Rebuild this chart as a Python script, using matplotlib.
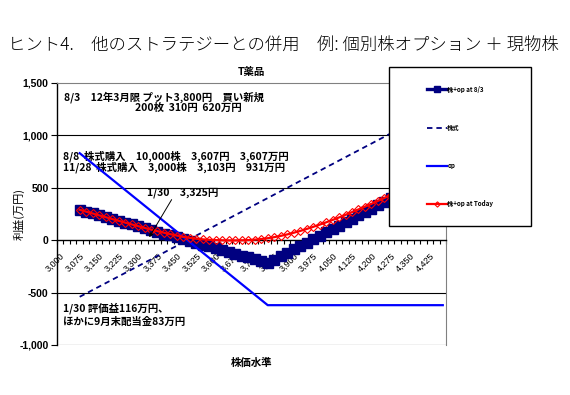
import numpy as np
import matplotlib
matplotlib.use("Agg")
import matplotlib.pyplot as plt
from matplotlib.patches import Rectangle

plt.rcParams['font.family'] = ['Noto Sans CJK JP', 'DejaVu Sans']

# ---- data (万円) ----
categories = np.arange(3000, 4500, 25)          # 株価の区分 3,000 ... 4,475
tick_every = 3
series_start = 3075                              # 系列は3,075円から

pl_expiry = [290, 272, 255, 237, 220, 202, 185, 167, 150, 132,
             115, 97, 80, 62, 45, 27, 10, -8, -25, -43,
             -60, -78, -95, -113, -130, -148, -165, -183, -200, -218,
             -185, -153, -120, -88, -55, -23, 10, 42, 75, 107,
             140, 172, 205, 237, 270, 302, 335, 367, 400, 432,
             465, 497, 530, 562, 595, 627, 660]

pl_stock = [-540, -508, -475, -443, -410, -378, -345, -313, -280, -248,
            -215, -183, -150, -118, -85, -53, -20, 12, 45, 77,
            110, 142, 175, 207, 240, 272, 305, 337, 370, 402,
            435, 467, 500, 532, 565, 597, 630, 662, 695, 727,
            760, 792, 825, 857, 890, 922, 955, 987, 1020, 1052,
            1085, 1117, 1150, 1182, 1215, 1247, 1280]

pl_op = [830, 780, 730, 680, 630, 580, 530, 480, 430, 380,
         330, 280, 230, 180, 130, 80, 30, -20, -70, -120,
         -170, -220, -270, -320, -370, -420, -470, -520, -570, -620,
         -620, -620, -620, -620, -620, -620, -620, -620, -620, -620,
         -620, -620, -620, -620, -620, -620, -620, -620, -620, -620,
         -620, -620, -620, -620, -620, -620, -620]

pl_today = [290, 272, 255, 237, 220, 202, 185, 168, 151, 134,
            117, 101, 86, 71, 57, 44, 32, 22, 14, 8,
            4, 1, -1, -2, -2, -1, 1, 5, 11, 19,
            29, 41, 55, 71, 88, 107, 127, 148, 170, 193,
            217, 242, 268, 294, 320, 347, 375, 403, 431, 460,
            490, 520, 550, 580, 611, 642, 673]

legend_labels = ["株+op at 8/3", "株式", "op", "株+op at Today"]
y_ticks = [-1000, -500, 0, 500, 1000, 1500]

# ---- figure ----
fig = plt.figure(figsize=(5.7, 3.95), dpi=100)
ax = fig.add_axes([0.1, 0.1266, 0.6825, 0.6633])

start = list(categories).index(series_start)
x = np.arange(start, start + len(pl_expiry))

navy = "#000080"
h1, = ax.plot(x, pl_expiry, color=navy, lw=2.4, marker="s", ms=7.3,
              mfc=navy, mec=navy, zorder=3)
h2, = ax.plot(x, pl_stock, color=navy, lw=1.3, ls=(0, (3, 2.2)), zorder=4)
h3, = ax.plot(x, pl_op, color="#0000FF", lw=1.6, zorder=4)
h4, = ax.plot(x, pl_today, color="#FF0000", lw=1.6, marker="D", ms=4.5,
              mfc="none", mec="#FF0000", mew=0.8, zorder=5)

ax.set_xlim(-0.5, len(categories) - 0.5)
ax.set_ylim(-1000, 1500)

# y axis
ax.set_yticks(y_ticks)
ax.set_yticklabels([f"{v:,}" for v in y_ticks], fontfamily="Liberation Sans",
                   fontweight="bold", fontsize=7.5)
ax.tick_params(axis="y", direction="out", length=4, width=0.8, pad=2)
for v in [500, 1000, -500, -1000]:
    ax.axhline(v, color="black", lw=0.8, zorder=1)

# category axis crossing at 0
ax.spines["bottom"].set_position(("data", 0))
ax.spines["bottom"].set_linewidth(1.0)
ax.spines["left"].set_linewidth(1.0)
ax.spines["top"].set_color("#808080")
ax.spines["right"].set_color("#808080")
ax.set_xticks(np.arange(0, len(categories), tick_every))
ax.set_xticklabels([f"{c:,}" for c in categories[::tick_every]],
                   fontfamily="Liberation Sans", fontsize=6.5,
                   rotation=45, ha="right", va="top", rotation_mode="anchor")
ax.tick_params(axis="x", which="major", length=0, pad=8)
ax.set_xticks(np.arange(-0.5, len(categories), 1), minor=True)
ax.tick_params(axis="x", which="minor", direction="out", length=3, width=0.8)

# titles
fig.text(0.014, 0.885, "ヒント4.　他のストラテジーとの併用　例: 個別株オプション ＋ 現物株",
         fontsize=12.5, fontweight="light", va="center", ha="left")
ax.set_title("T薬品", fontsize=7.5, fontweight="bold", pad=6)
ax.set_ylabel("利益(万円)", fontsize=8)
ax.yaxis.set_label_coords(-0.082, 0.5)
fig.text(0.442, 0.083, "株価水準", fontsize=7.5, fontweight="bold",
         ha="center", va="center")

# annotations
note = dict(fontsize=7.5, fontweight="bold", va="center", ha="left")
ax.text(0.58, 1365, "8/3　12年3月限 プット3,800円　買い新規", **note)
ax.text(11.5, 1260, "200枚  310円  620万円", **note)
ax.text(0.43, 805, "8/8  株式購入　10,000株　3,607円　3,607万円", **note)
ax.text(0.43, 700, "11/28  株式購入　3,000株　3,103円　931万円", **note)
ax.text(13.4, 458, "1/30　3,325円", **note)
ax.text(0.43, -650, "1/30 評価益116万円、", **note)
ax.text(0.43, -775, "ほかに9月末配当金83万円", **note)
ax.annotate("", xy=(13.5, 5), xytext=(17.4, 410),
            arrowprops=dict(arrowstyle="-|>", color="black", lw=0.7,
                            mutation_scale=6), zorder=6)

# legend box
box = (0.6825, 0.4278, 0.2491, 0.4026)
fig.add_artist(Rectangle(box[:2], box[2], box[3], transform=fig.transFigure,
                         facecolor="white", edgecolor="black", lw=1.0, zorder=2))
fig.legend([h1, h2, h3, h4], legend_labels, loc="center", bbox_to_anchor=box,
           bbox_transform=fig.transFigure, frameon=False, numpoints=1,
           markerscale=0.6, handlelength=3.2, handletextpad=0.1,
           labelspacing=5.0, prop=dict(size=4.5, weight="bold")).set_zorder(5)

fig.savefig("out.png", dpi=100)
